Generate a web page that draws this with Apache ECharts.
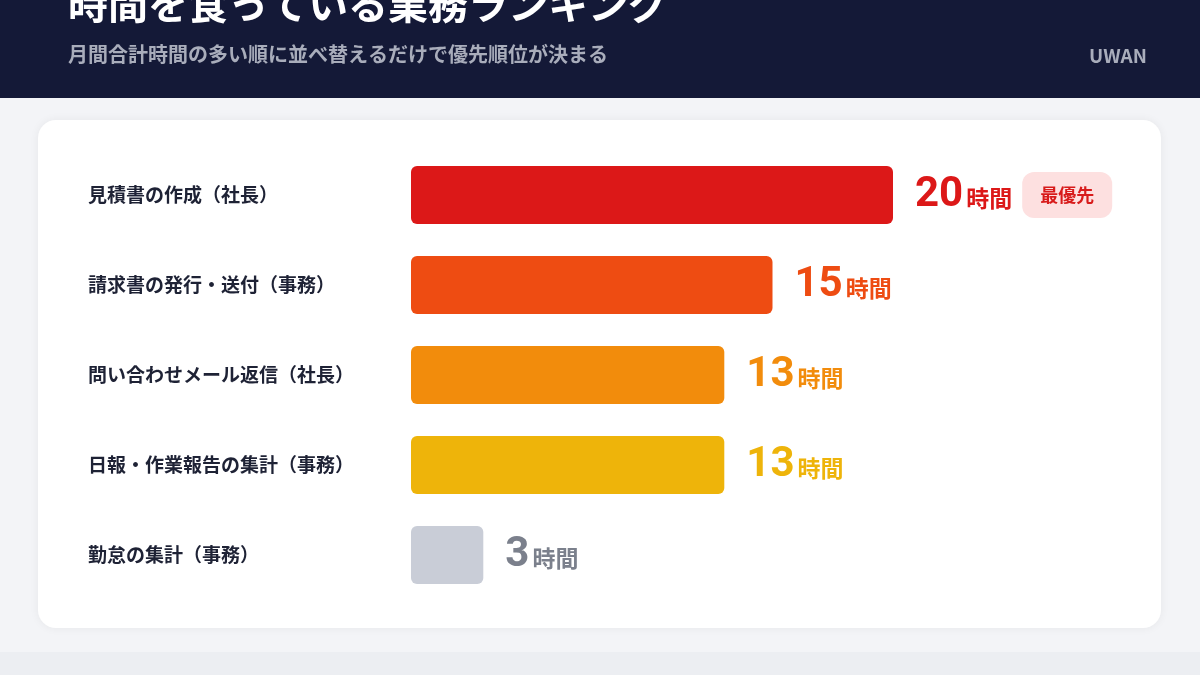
<!DOCTYPE html><html><head><meta charset="utf-8"><script src="https://cdn.jsdelivr.net/npm/echarts@6/dist/echarts.min.js"></script>
<style>html,body{margin:0;background:#f3f4f7}#c{width:1200px;height:675px}</style></head><body><div id="c"></div><script>
const categories=['見積書の作成（社長）','請求書の発行・送付（事務）','問い合わせメール返信（社長）','日報・作業報告の集計（事務）','勤怠の集計（事務）'];
const hours=[20,15,13,13,3];
const barColors=['#dc1818','#ee4c12','#f28c0c','#eeb40a','#c9cdd7'];
const labelColors=['#dc1818','#ee4c12','#f28c0c','#eeb40a','#7b808c'];
const badgeText='最優先';
const F='"Noto Sans CJK JP",sans-serif';
const chart=echarts.init(document.getElementById('c'));
chart.setOption({
 backgroundColor:'#f3f4f7',
 graphic:[
  {type:'rect',shape:{x:0,y:0,width:1200,height:98},style:{fill:'#141937'},z:-10},
  {type:'rect',shape:{x:0,y:652,width:1200,height:23},style:{fill:'#eceef2'},z:-10},
  {type:'rect',shape:{x:38,y:120,width:1123,height:508,r:18},style:{fill:'#fff',shadowBlur:10,shadowColor:'rgba(0,0,0,0.06)'},z:-9},
  {type:'text',left:68,top:-16,style:{text:'時間を食っている業務ランキング',fill:'#fff',font:'bold 40px '+F}},
  {type:'text',left:68,top:44,style:{text:'月間合計時間の多い順に並べ替えるだけで優先順位が決まる',fill:'#a9adbb',font:'bold 20px '+F}},
  {type:'text',right:53,top:46,style:{text:'UWAN',fill:'#a9adbb',font:'bold 19px '+F}}
 ],
 grid:{left:411,right:307,top:150,bottom:75},
 xAxis:{type:'value',min:0,max:20,show:false},
 yAxis:{type:'category',inverse:true,data:categories,axisLine:{show:false},axisTick:{show:false},
  axisLabel:{align:'left',margin:323,color:'#1e2235',fontSize:19,fontWeight:'bold',fontFamily:F}},
 series:[{type:'bar',barWidth:58,animation:false,
  data:hours.map((v,i)=>({value:v,itemStyle:{color:barColors[i],borderRadius:6},
   label:{show:true,position:'right',distance:22,
    formatter:i===0?'{n|{c}}{u|時間}   {b|'+badgeText+'}':'{n|{c}}{u|時間}',
    rich:{n:{fontSize:42,fontWeight:'bold',color:labelColors[i],fontFamily:'Roboto'},
     u:{fontSize:23,fontWeight:'bold',color:labelColors[i],fontFamily:F,padding:[6,0,0,3]},
     b:{fontSize:18,fontWeight:'bold',color:'#d81b1b',backgroundColor:'#fde0e0',borderRadius:12,padding:[14,18],fontFamily:F}}}}))
 }]
});
</script></body></html>
